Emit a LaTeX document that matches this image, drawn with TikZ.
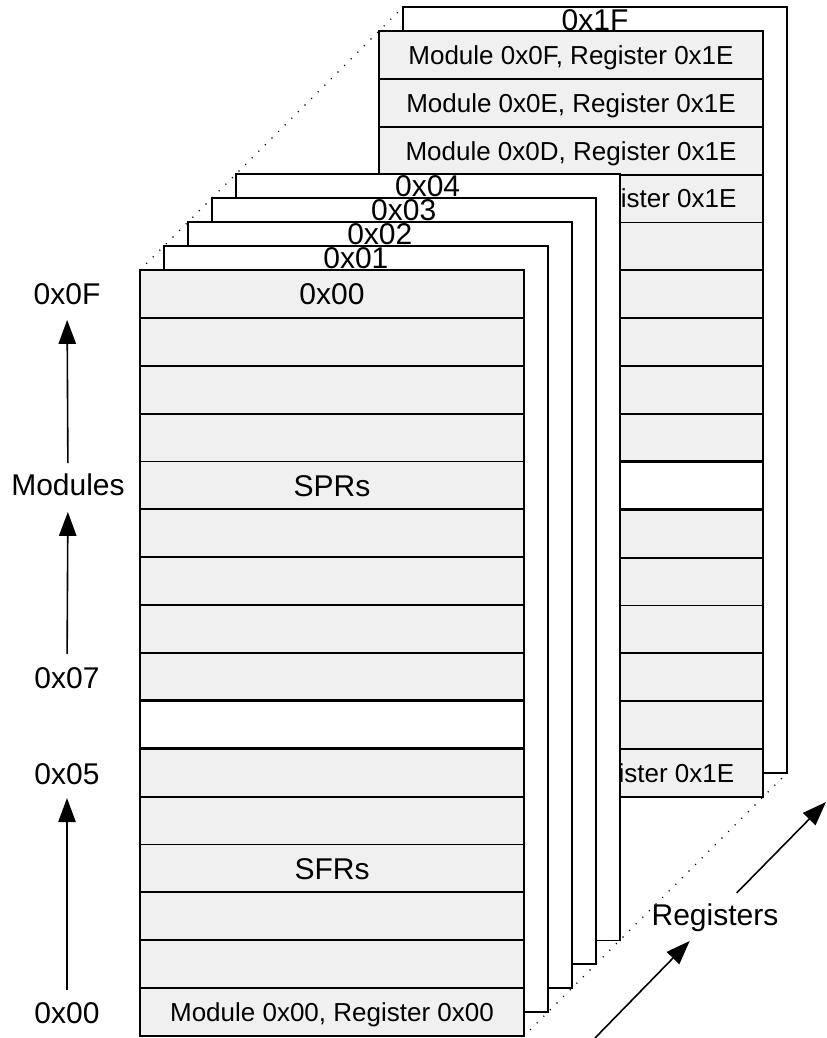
\documentclass[tikz,border=0pt]{standalone}
\usepackage{fontspec}
\setmainfont{Liberation Sans}
\usetikzlibrary{arrows.meta}
\definecolor{rowgray}{RGB}{240,240,240}
\begin{document}
\begin{tikzpicture}[x=0.75pt,y=-0.75pt,
  big/.style={font=\fontsize{22.5}{27}\selectfont, inner sep=0pt, outer sep=0pt, text height=16pt, text depth=0pt},
  small/.style={font=\fontsize{19.5}{23}\selectfont, inner sep=0pt, outer sep=0pt, text height=14pt, text depth=0pt},
  box/.style={draw=black, line width=1.35pt, fill=white},
  row/.style={draw=black, line width=1.35pt, fill=rowgray},
  hole/.style={draw=black, line width=2.2pt, fill=white},
  arr/.style={draw=black, line width=1.2pt, -{Triangle[length=18pt,width=13pt]}},
  guide/.style={draw=black, line width=1.2pt, line cap=round, dash pattern=on 0pt off 7pt}
]
\useasboundingbox (0,0) rectangle (826,1038);
\def\W{384}
\def\H{766}
\def\R{47.875}

% corner coordinates for the dotted guides
\coordinate (F-nw) at (140,270);
\coordinate (F-se) at (524,1036);
\coordinate (B-nw) at (403,7);
\coordinate (B-se) at (787,773);
\draw[guide] (F-nw) -- (B-nw);
\draw[guide] (F-se) -- (B-se);

% back layer 0x1F
\draw[box] (B-nw) rectangle (B-se);
\node[big] (t1F) at (595,19.5) {0x1F};

% layer 0x1E
\foreach \i in {0,...,15} {
  \draw[row] (379,31+\i*\R) rectangle ++(\W,\R);
}
\draw[hole] (379,31+9*\R) rectangle ++(\W,\R);
\node[small] (m0F) at (571,31+0.5*\R) {Module 0x0F, Register 0x1E};
\node[small] (m0E) at (571,31+1.5*\R) {Module 0x0E, Register 0x1E};
\node[small] (m0D) at (571,31+2.5*\R) {Module 0x0D, Register 0x1E};
\node[small] (m0C) at (571,31+3.5*\R) {Module 0x0C, Register 0x1E};
\node[small] (m00b) at (571,31+15.5*\R) {Module 0x00, Register 0x1E};

% middle layers 0x04 .. 0x01
\foreach \k/\lab in {4/0x04,3/0x03,2/0x02,1/0x01} {
  \draw[box] (140+23.9*\k,270-23.9*\k) rectangle ++(\W,\H);
  \node[big] (t\k) at (332+23.9*\k,270-23.9*\k+11.5) {\lab};
}

% front layer 0x00
\foreach \i in {0,...,15} {
  \draw[row] (140,270+\i*\R) rectangle ++(\W,\R);
}
\draw[hole] (140,270+9*\R) rectangle ++(\W,\R);
\node[big] (t0) at (332,270+0.5*\R) {0x00};
\node[big] (spr) at (332,270+4.5*\R) {SPRs};
\node[big] (sfr) at (332,270+12.5*\R) {SFRs};
\node[small] (m00) at (332,270+15.5*\R) {Module 0x00, Register 0x00};

% left axis
\node[big] (l0F) at (67,293.5) {0x0F};
\node[big] (mod) at (68,485) {Modules};
\node[big] (l07) at (67,677.5) {0x07};
\node[big] (l05) at (67,773.5) {0x05};
\node[big] (l00) at (67,1012.5) {0x00};
\draw[arr, shorten <=8.5pt, shorten >=11.8pt] (mod) -- (l0F);
\draw[arr, shorten <=9.6pt, shorten >=12.2pt] (l07) -- (mod);
\draw[arr, shorten <=8.9pt, shorten >=10.4pt] (l00) -- (l05);

% registers axis
\node[big] (reg) at (715,915) {Registers};
\coordinate (rA) at (595,1038);
\coordinate (rC) at (826,802);
\draw[arr, shorten >=16pt] (rA) -- (reg);
\draw[arr, shorten <=12pt] (reg) -- (rC);
\end{tikzpicture}
\end{document}
